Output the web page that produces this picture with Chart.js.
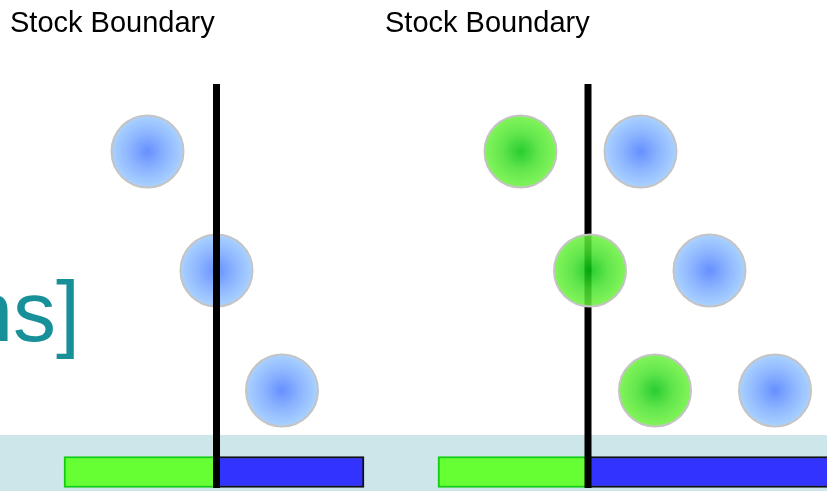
<!DOCTYPE html>
<html lang="en">
<head>
    <meta charset="UTF-8">
    <title>Stock Boundary</title>
    <script src="https://cdn.jsdelivr.net/npm/chart.js"></script>
    <style>
        html, body { margin: 0; padding: 0; background: #fff; }
        #wrap { position: relative; width: 827px; height: 491px; overflow: hidden; }
        canvas { position: absolute; left: 0; top: 0; }
        .label {
            position: absolute; top: 6px;
            font-family: "Liberation Sans", Arial, sans-serif;
            font-size: 29px; color: #000; white-space: nowrap;
        }
        #cut {
            position: absolute; right: 747px; top: 262px;
            font-family: "Liberation Sans", Arial, sans-serif;
            font-size: 86px; color: #17909a; white-space: nowrap;
        }
    </style>
</head>
<body>
<div id="wrap">
    <canvas id="myChart" width="827" height="491"></canvas>
    <div class="label" style="left:10px">Stock Boundary</div>
    <div class="label" style="left:385px">Stock Boundary</div>
    <div id="cut">[Positions]</div>
</div>

<script>
    // Diagram data (x/y in diagram units, y grows downward)
    var boundaries = [216.5, 588];          // stock boundary positions
    var boundaryTop = 84;
    var boundaryBottom = 488;

    var blueBalls = [
        {x: 147.5, y: 151.5}, {x: 216.5, y: 270.5}, {x: 282, y: 390.5},
        {x: 640.5, y: 151.5}, {x: 709.5, y: 270.5}, {x: 775, y: 390.5}
    ];
    var greenBalls = [
        {x: 520.5, y: 151.5}, {x: 590, y: 270.5}, {x: 655, y: 390.5}
    ];

    var barRow = 472;
    var greenBars = [[64, 216], [438, 588]];
    var blueBars = [[216, 364], [588, 840]];
    var bandTop = 435;

    var ballRadius = 36;

    function gradientFill(inner, mid, outer) {
        return function(ctx) {
            if (ctx.type !== 'data') return outer;
            var chart = ctx.chart;
            var cx = chart.scales.x.getPixelForValue(ctx.raw.x);
            var cy = chart.scales.y.getPixelForValue(ctx.raw.y);
            if (!isFinite(cx) || !isFinite(cy)) return outer;
            var g = chart.ctx.createRadialGradient(cx, cy, 0, cx, cy, ballRadius);
            g.addColorStop(0, inner);
            g.addColorStop(0.5, mid);
            g.addColorStop(1, outer);
            return g;
        };
    }

    var bandPlugin = {
        id: 'band',
        beforeDatasetsDraw: function(chart) {
            var c = chart.ctx;
            var top = chart.scales.y.getPixelForValue(bandTop);
            c.save();
            c.fillStyle = '#cde6ea';
            c.fillRect(chart.chartArea.left, top, chart.chartArea.right - chart.chartArea.left, chart.chartArea.bottom - top);
            c.restore();
        }
    };

    var datasets = [];

    datasets.push({
        type: 'bar', indexAxis: 'y', grouped: false, order: 5,
        data: greenBars.map(function(b) { return {x: b, y: barRow}; }),
        backgroundColor: '#66ff33', borderColor: '#11cc11', borderWidth: 2,
        borderSkipped: false, barThickness: 31
    });
    datasets.push({
        type: 'bar', indexAxis: 'y', grouped: false, order: 4,
        data: blueBars.map(function(b) { return {x: b, y: barRow}; }),
        backgroundColor: '#3333ff', borderColor: '#111111', borderWidth: 2,
        borderSkipped: false, barThickness: 31
    });
    datasets.push({
        type: 'bubble', order: 3,
        data: blueBalls.map(function(p) { return {x: p.x, y: p.y, r: ballRadius}; }),
        backgroundColor: gradientFill('#6690ff', '#8cb4ff', '#aad2ff'),
        borderColor: '#c4c4c4', borderWidth: 2
    });
    boundaries.forEach(function(bx) {
        datasets.push({
            type: 'line', order: 2,
            data: [{x: bx, y: boundaryTop}, {x: bx, y: boundaryBottom}],
            borderColor: '#000', borderWidth: 7, pointRadius: 0, fill: false,
            borderCapStyle: 'butt'
        });
    });
    datasets.push({
        type: 'bubble', order: 1,
        data: greenBalls.map(function(p) { return {x: p.x, y: p.y, r: ballRadius}; }),
        backgroundColor: gradientFill('rgba(2,196,14,0.85)', 'rgba(70,225,45,0.85)', 'rgba(108,243,61,0.85)'),
        borderColor: '#c4c4c4', borderWidth: 2
    });

    var ctx = document.getElementById('myChart').getContext('2d');
    var myChart = new Chart(ctx, {
        type: 'bubble',
        data: { datasets: datasets },
        options: {
            responsive: false,
            animation: false,
            events: [],
            layout: { padding: 0, autoPadding: false },
            plugins: { legend: { display: false }, tooltip: { enabled: false } },
            scales: {
                x: { type: 'linear', min: 0, max: 827, offset: false, display: false },
                y: { type: 'linear', min: 0, max: 491, reverse: true, offset: false, display: false }
            }
        },
        plugins: [bandPlugin]
    });
</script>
</body>
</html>
